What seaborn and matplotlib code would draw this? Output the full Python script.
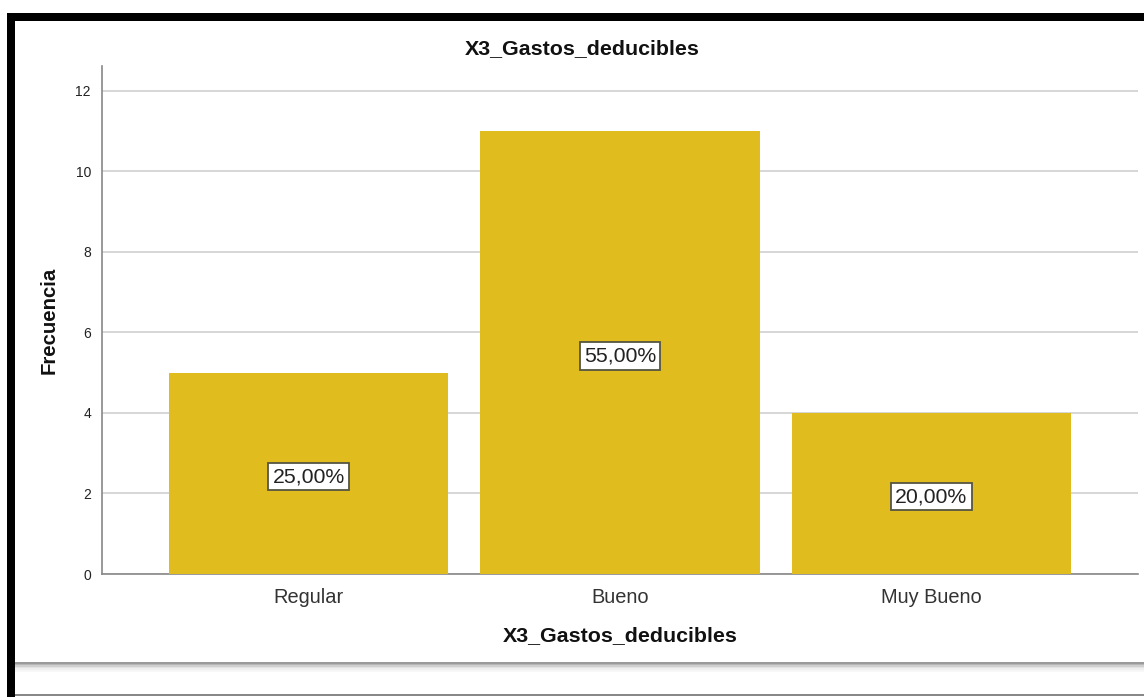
import matplotlib
matplotlib.use("Agg")
import matplotlib.pyplot as plt
import seaborn as sns
from matplotlib.patches import Rectangle

categories = ["Regular", "Bueno", "Muy Bueno"]
values = [5, 11, 4]
pct_labels = ["25,00%", "55,00%", "20,00%"]
yticks = [0, 2, 4, 6, 8, 10, 12]
title = "X3_Gastos_deducibles"
xlabel = "X3_Gastos_deducibles"
ylabel = "Frecuencia"

sns.set_theme(style="white")
plt.rcParams["font.family"] = ["Liberation Sans", "DejaVu Sans"]

W, H = 1144, 697
fig = plt.figure(figsize=(W / 100, H / 100), dpi=100)
fig.patch.set_facecolor("white")

def px(x0, y0, x1, y1):
    # figure fraction rect from pixel coords (top-left origin)
    return (x0 / W, 1 - y1 / H, (x1 - x0) / W, (y1 - y0) / H)

def add_rect(x0, y0, x1, y1, color):
    r = px(x0, y0, x1, y1)
    fig.add_artist(Rectangle(r[:2], r[2], r[3], transform=fig.transFigure,
                             facecolor=color, edgecolor="none"))

ax = fig.add_axes([102 / W, 1 - 574 / H, (1138 - 102) / W, (574 - 66) / H])
ax.set_facecolor("white")

sns.barplot(x=categories, y=values, color="#E1BC1F", saturation=1,
            width=0.896, ax=ax, zorder=3, linewidth=0, edgecolor="none")

ax.set_xlim(-0.663, 2.663)
ax.set_ylim(0, 12.62)
ax.set_yticks(yticks)
ax.set_yticklabels([str(t) for t in yticks], fontsize=10, color="#222222")
ax.tick_params(axis="y", length=0, pad=8)
ax.tick_params(axis="x", length=0, pad=10, labelsize=14.4, labelcolor="#333333")
ax.grid(axis="y", color="#d0d0d0", linewidth=1.2, zorder=0)
ax.set_axisbelow(True)
for s in ["top", "right"]:
    ax.spines[s].set_visible(False)
for s in ["left", "bottom"]:
    ax.spines[s].set_color("#888888")
    ax.spines[s].set_linewidth(1.2)

for i, (v, lab) in enumerate(zip(values, pct_labels)):
    ax.text(i, v / 2 - 0.08, lab, ha="center", va="center", fontsize=15.3,
            color="#222222", zorder=5,
            bbox=dict(boxstyle="square,pad=0.2", facecolor="white",
                      edgecolor="#555544", linewidth=1.3))

ax.set_xlabel(xlabel, fontsize=15.4, fontweight="bold", labelpad=14, color="#111111")
ax.set_ylabel(ylabel, fontsize=14.7, fontweight="bold", labelpad=12, color="#111111")
fig.text(582 / W, 1 - 49 / H, title, ha="center", va="center",
         fontsize=15.4, fontweight="bold", color="#111111")

# window frame decorations
add_rect(7, 13, W, 21, "black")
add_rect(7, 13, 15, H, "black")
shades = ["#9a9a9a", "#b5b5b5", "#cfcfcf", "#e2e2e2", "#efefef", "#f7f7f7"]
for k, c in enumerate(shades):
    add_rect(15, 662 + k * 1.6, W, 663.6 + k * 1.6, c)
add_rect(15, 694, W, 695.5, "#888888")

fig.savefig("out.png", dpi=100, facecolor="white")
